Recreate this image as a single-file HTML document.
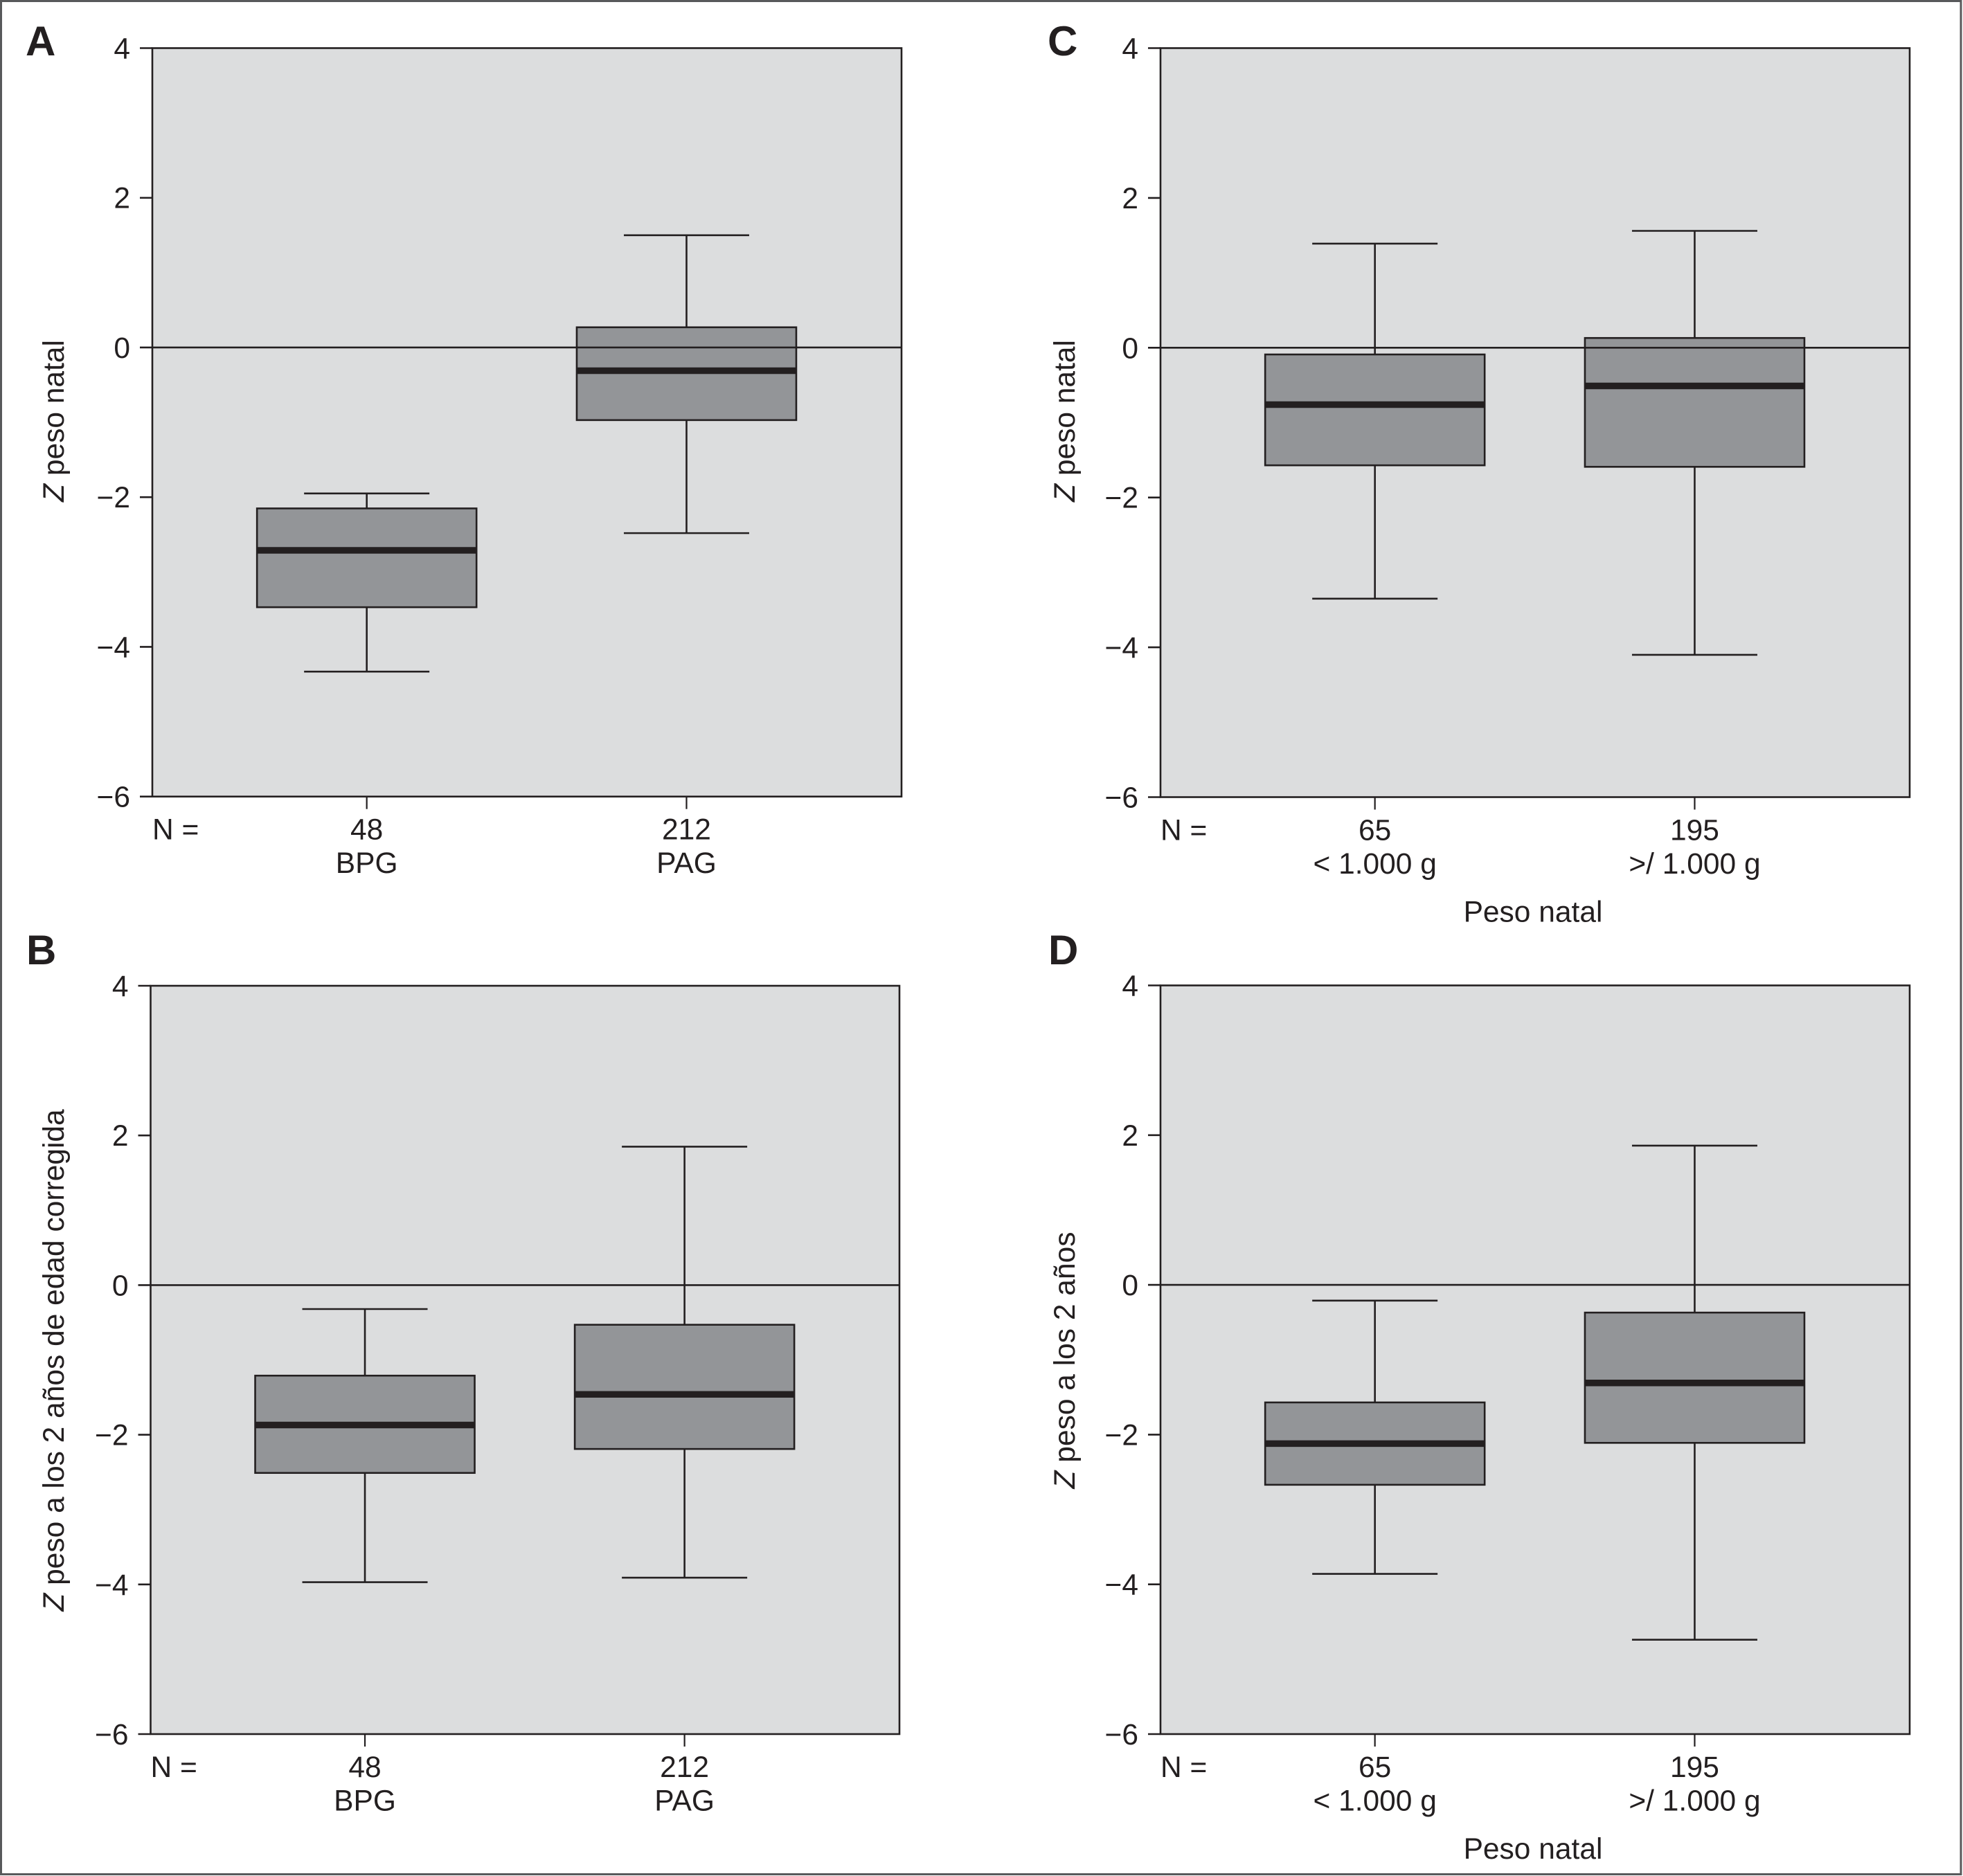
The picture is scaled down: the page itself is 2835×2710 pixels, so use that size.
<!DOCTYPE html>
<html lang="es">
<head>
<meta charset="utf-8">
<title>Boxplots Z peso</title>
<style>
html,body{margin:0;padding:0;background:#fff;}
body{width:2835px;height:2710px;overflow:hidden;}
svg{display:block;}
text{font-family:"Liberation Sans",sans-serif;fill:#231f20;}
</style>
</head>
<body>
<svg id="figure" xmlns="http://www.w3.org/2000/svg" width="2835" height="2710" viewBox="0 0 2835 2710">
  <rect x="1.5" y="1.5" width="2830.5" height="2706" fill="#fff" stroke="#58595b" stroke-width="3"/>
</svg>
<script>
// Shared axis data
const yTicks = [4, 2, 0, -2, -4, -6];
const yTickLabels = ['4', '2', '0', '\u22122', '\u22124', '\u22126'];
const yMax = 4;
const yMin = -6;

// Panel A
const aCategories = ['BPG', 'PAG'];
const aCounts = ['48', '212'];
const aWhiskerHigh = [-1.95, 1.50];
const aQ3 = [-2.15, 0.27];
const aMedian = [-2.71, -0.31];
const aQ1 = [-3.47, -0.97];
const aWhiskerLow = [-4.33, -2.48];

// Panel B
const bCategories = ['BPG', 'PAG'];
const bCounts = ['48', '212'];
const bWhiskerHigh = [-0.32, 1.85];
const bQ3 = [-1.21, -0.53];
const bMedian = [-1.87, -1.46];
const bQ1 = [-2.51, -2.19];
const bWhiskerLow = [-3.97, -3.91];

// Panel C
const cCategories = ['< 1.000 g', '>/ 1.000 g'];
const cCounts = ['65', '195'];
const cWhiskerHigh = [1.39, 1.56];
const cQ3 = [-0.09, 0.13];
const cMedian = [-0.76, -0.51];
const cQ1 = [-1.57, -1.59];
const cWhiskerLow = [-3.35, -4.10];

// Panel D
const dCategories = ['< 1.000 g', '>/ 1.000 g'];
const dCounts = ['65', '195'];
const dWhiskerHigh = [-0.21, 1.86];
const dQ3 = [-1.57, -0.37];
const dMedian = [-2.12, -1.31];
const dQ1 = [-2.67, -2.11];
const dWhiskerLow = [-3.86, -4.74];

const NS = 'http://www.w3.org/2000/svg';
const INK = '#231f20';
const FONT = 42.5;
const svg = document.getElementById('figure');

function make(parent, tag, attrs, name, text) {
  const el = document.createElementNS(NS, tag);
  for (const k in attrs) el.setAttribute(k, attrs[k]);
  
  
  if (text !== undefined) el.textContent = text;
  parent.appendChild(el);
  return el;
}

function line(parent, x1, y1, x2, y2, w, name) {
  return make(parent, 'line', {x1: x1, y1: y1, x2: x2, y2: y2, stroke: INK, 'stroke-width': w}, name);
}

function drawPanel(p) {
  const g = make(svg, 'g', {}, 'panel-' + p.letter.toLowerCase());
  const yScale = v => p.top + (yMax - v) / (yMax - yMin) * (p.bottom - p.top);
  const xScale = i => p.left + (p.right - p.left) * (0.2862 + 0.4268 * i);

  make(g, 'text', {x: p.letterX, y: p.letterY, 'font-size': 60, 'font-weight': 'bold'}, 'panel-letter', p.letter);

  make(g, 'rect', {x: p.left, y: p.top, width: p.right - p.left, height: p.bottom - p.top,
    fill: '#dcddde', stroke: INK, 'stroke-width': 2.6}, 'plot-area');

  yTicks.forEach((t, i) => {
    const y = yScale(t);
    line(g, p.left - 18, y, p.left, y, 2.6, 'y-tick');
    make(g, 'text', {x: p.left - 32, y: y + 15, 'font-size': FONT, 'text-anchor': 'end'}, 'y-tick-label', yTickLabels[i]);
  });

  p.categories.forEach((c, i) => {
    const x = xScale(i);
    const half = 158.5, capHalf = 90.5;
    const box = make(g, 'g', {}, 'box-' + c.replace(/[^A-Za-z0-9]+/g, '-').toLowerCase());
    line(box, x, yScale(p.high[i]), x, yScale(p.q3[i]), 2.6, 'upper-whisker');
    line(box, x, yScale(p.low[i]), x, yScale(p.q1[i]), 2.6, 'lower-whisker');
    line(box, x - capHalf, yScale(p.high[i]), x + capHalf, yScale(p.high[i]), 2.6, 'upper-cap');
    line(box, x - capHalf, yScale(p.low[i]), x + capHalf, yScale(p.low[i]), 2.6, 'lower-cap');
    make(box, 'rect', {x: x - half, y: yScale(p.q3[i]), width: half * 2,
      height: yScale(p.q1[i]) - yScale(p.q3[i]), fill: '#939598', stroke: INK, 'stroke-width': 2.6}, 'interquartile-box');
    line(box, x - half, yScale(p.median[i]), x + half, yScale(p.median[i]), 9.5, 'median-line');

    line(g, x, p.bottom, x, p.bottom + 18, 2.2, 'x-tick');
    make(g, 'text', {x: x, y: p.bottom + 62, 'font-size': FONT, 'text-anchor': 'middle'}, 'group-count', p.counts[i]);
    make(g, 'text', {x: x, y: p.bottom + 110.5, 'font-size': FONT, 'text-anchor': 'middle'}, 'category-label', c);
  });

  line(g, p.left, yScale(0), p.right, yScale(0), 2.6, 'zero-reference-line');

  make(g, 'text', {x: p.left, y: p.bottom + 62, 'font-size': FONT}, 'n-label', 'N =');

  const yLabel = make(g, 'text', {'font-size': FONT, 'text-anchor': 'middle',
    transform: 'translate(' + p.labelX + ',' + p.labelY + ') rotate(-90)'}, 'y-axis-title');
  make(yLabel, 'tspan', {'font-style': 'italic'}, 'y-axis-title-z', 'Z');
  make(yLabel, 'tspan', {}, 'y-axis-title-text', p.yTitle);

  if (p.xTitle) {
    make(g, 'text', {x: p.xTitleX, y: p.bottom + 180, 'font-size': FONT, 'text-anchor': 'middle'}, 'x-axis-title', p.xTitle);
  }
}

drawPanel({letter: 'A', letterX: 37, letterY: 80, left: 220, right: 1302, top: 69.5, bottom: 1150.7,
  labelX: 92, labelY: 608, yTitle: ' peso natal',
  categories: aCategories, counts: aCounts, high: aWhiskerHigh, q3: aQ3, median: aMedian, q1: aQ1, low: aWhiskerLow});
drawPanel({letter: 'B', letterX: 38, letterY: 1393, left: 217.5, right: 1299, top: 1424, bottom: 2505,
  labelX: 92, labelY: 1965, yTitle: ' peso a los 2 a\u00f1os de edad corregida',
  categories: bCategories, counts: bCounts, high: bWhiskerHigh, q3: bQ3, median: bMedian, q1: bQ1, low: bWhiskerLow});
drawPanel({letter: 'C', letterX: 1513, letterY: 80, left: 1676, right: 2758, top: 69.5, bottom: 1151.5,
  labelX: 1552, labelY: 608, yTitle: ' peso natal', xTitle: 'Peso natal', xTitleX: 2214,
  categories: cCategories, counts: cCounts, high: cWhiskerHigh, q3: cQ3, median: cMedian, q1: cQ1, low: cWhiskerLow});
drawPanel({letter: 'D', letterX: 1514, letterY: 1393, left: 1676, right: 2758, top: 1423.5, bottom: 2505,
  labelX: 1552, labelY: 1965, yTitle: ' peso a los 2 a\u00f1os', xTitle: 'Peso natal', xTitleX: 2214,
  categories: dCategories, counts: dCounts, high: dWhiskerHigh, q3: dQ3, median: dMedian, q1: dQ1, low: dWhiskerLow});
</script>
</body>
</html>
